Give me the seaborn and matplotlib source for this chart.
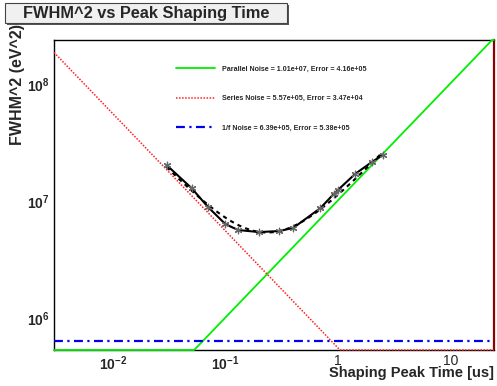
import numpy as np
import pandas as pd
import matplotlib
matplotlib.use('Agg')
import matplotlib.pyplot as plt
import matplotlib.ticker as mticker
from matplotlib.patches import Rectangle
import seaborn as sns

# ── data ──
shaping_time = [0.03, 0.05, 0.07, 0.10, 0.13, 0.20, 0.30, 0.40, 0.70, 0.92, 1.0, 1.42, 2.0, 2.5]
fwhm2 = [2.03e7, 1.29e7, 8.9e6, 6.35e6, 5.65e6, 5.43e6, 5.54e6, 5.88e6,
         8.7e6, 1.15e7, 1.24e7, 1.70e7, 2.15e7, 2.47e7]

parallel_noise, parallel_err = 1.01e7, 4.16e5
series_noise, series_err = 5.57e5, 3.47e4
flicker_noise, flicker_err = 6.39e5, 5.38e5

xlim = (2.99e-3, 24.5)
ylim = (5.33e5, 2.38e8)

sns.set_style('white')
plt.rcParams['font.family'] = ['Liberation Sans', 'DejaVu Sans']
plt.rcParams['mathtext.fontset'] = 'custom'
plt.rcParams['mathtext.rm'] = 'Liberation Sans:bold'
plt.rcParams['mathtext.bf'] = 'Liberation Sans:bold'
plt.rcParams['mathtext.default'] = 'bf'

fig = plt.figure(figsize=(4.97, 3.86), dpi=100)
ax = fig.add_axes([54 / 497, 1 - 350 / 386, 440 / 497, 310 / 386])

# noise components over the full range, clipped onto the frame like ROOT does
t = np.logspace(np.log10(xlim[0]), np.log10(xlim[1]), 400)
comp = pd.DataFrame({
    't': t,
    'par': np.clip(parallel_noise * t, *ylim),
    'ser': np.clip(series_noise / t, *ylim),
    'flk': np.full_like(t, flicker_noise),
})

sns.lineplot(data=comp, x='t', y='par', ax=ax, color='#00ee00', lw=1.3,
             label=f'Parallel Noise = {parallel_noise:.2e}, Error = {parallel_err:.2e}',
             clip_on=False, zorder=3)
sns.lineplot(data=comp, x='t', y='ser', ax=ax, color='#ff2020', lw=1.1,
             linestyle=(0, (1, 1)), clip_on=False, zorder=3,
             label=f'Series Noise = {series_noise:.2e}, Error = {series_err:.2e}')
sns.lineplot(data=comp, x='t', y='flk', ax=ax, color='#0000ee', lw=1.6,
             linestyle=(0, (4, 2, 1, 2)), zorder=3,
             label=f'1/f Noise = {flicker_noise:.2e}, Error = {flicker_err:.2e}')

# fit curve over the measured range
tf = np.logspace(np.log10(shaping_time[0]), np.log10(shaping_time[-1]), 200)
fit = pd.DataFrame({'t': tf, 'y': parallel_noise * tf + series_noise / tf + flicker_noise})
sns.lineplot(data=fit, x='t', y='y', ax=ax, color='black', lw=1.5,
             linestyle=(0, (2, 2)), zorder=4)

meas = pd.DataFrame({'t': shaping_time, 'y': fwhm2})
sns.lineplot(data=meas, x='t', y='y', ax=ax, color='black', lw=1.5, zorder=5)
sns.scatterplot(data=meas, x='t', y='y', ax=ax, marker=(6, 2, 0), s=22,
                color='#666666', linewidth=0.9, zorder=6)

ax.set_xscale('log')
ax.set_yscale('log')
ax.set_xlim(*xlim)
ax.set_ylim(*ylim)

ax.xaxis.set_major_locator(mticker.FixedLocator([1e-2, 1e-1, 1, 10]))
ax.xaxis.set_major_formatter(mticker.FixedFormatter(['$10^{-2}$', '$10^{-1}$', '1', '10']))
ax.yaxis.set_major_locator(mticker.FixedLocator([1e6, 1e7, 1e8]))
ax.yaxis.set_major_formatter(mticker.FixedFormatter(['$10^{6}$', '$10^{7}$', '$10^{8}$']))
ax.xaxis.set_minor_locator(mticker.LogLocator(base=10, subs=np.arange(2, 10)))
ax.yaxis.set_minor_locator(mticker.LogLocator(base=10, subs=np.arange(2, 10)))
ax.xaxis.set_minor_formatter(mticker.NullFormatter())
ax.yaxis.set_minor_formatter(mticker.NullFormatter())

ax.tick_params(axis='x', which='major', direction='in', length=7, width=1, color='#666666',
               labelsize=10, pad=3, top=False)
ax.tick_params(axis='x', which='minor', direction='in', length=4, width=1, color='#666666', top=False)
ax.tick_params(axis='y', which='major', direction='in', length=13, width=1, color='#666666',
               labelsize=10, pad=3, right=False)
ax.tick_params(axis='y', which='minor', direction='in', length=7, width=1, color='#666666', right=False)

for side in ['left', 'bottom', 'top']:
    ax.spines[side].set_color('black')
    ax.spines[side].set_linewidth(1.0)
ax.spines['right'].set_color('#8b0000')
ax.spines['right'].set_linewidth(1.6)

ax.set_xlabel('')
ax.set_ylabel('')
fig.text(494 / 497, 1 - 373 / 386, 'Shaping Peak Time [us]', ha='right', va='center',
         fontsize=10.5, fontweight='bold')
fig.text(18 / 497, 1 - 24 / 386, 'FWHM^2 (eV^2)', ha='center', va='top', rotation=90,
         fontsize=11.5, fontweight='bold')

leg = ax.legend(loc='upper left', bbox_to_anchor=(118 / 440, 1 - 22 / 310), frameon=False,
                prop={'size': 5.1, 'weight': 'bold'}, handlelength=5.6, handletextpad=1.0,
                labelspacing=3.2, borderpad=0)

# ROOT-style title box with shadow
fig.patches.append(Rectangle((7 / 497, 1 - 25 / 386), 282 / 497, 20 / 386,
                             transform=fig.transFigure, facecolor='#555555',
                             edgecolor='none', zorder=1))
fig.patches.append(Rectangle((5 / 497, 1 - 23 / 386), 282 / 497, 20 / 386,
                             transform=fig.transFigure, facecolor='#f0f0f0',
                             edgecolor='#444444', linewidth=0.8, zorder=2))
fig.text(146 / 497, 1 - 13.5 / 386, 'FWHM^2 vs Peak Shaping Time', ha='center', va='center',
         fontsize=11.8, fontweight='bold', zorder=3)

fig.savefig('out.png', dpi=100)
